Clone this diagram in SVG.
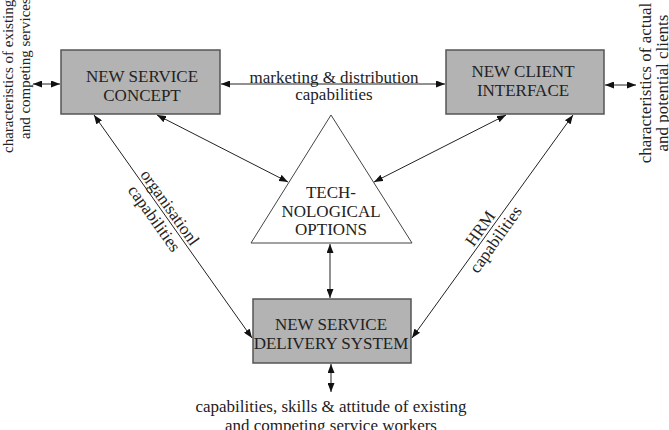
<svg xmlns="http://www.w3.org/2000/svg" width="669" height="430" viewBox="0 0 669 430">
<defs>
<marker id="ah" markerUnits="userSpaceOnUse" markerWidth="9" markerHeight="7" refX="9" refY="3.5" orient="auto-start-reverse">
<path d="M0,0 L9,3.5 L0,7 z" fill="#111"/>
</marker>
<style>
text{font-family:"Liberation Serif","Times New Roman",serif;font-size:17px;fill:#222}
.box{fill:#b3b3b3;stroke:#555;stroke-width:1.5}
.tri{fill:#fff;stroke:#444;stroke-width:1}
.c{stroke:#222;stroke-width:1;fill:none;marker-start:url(#ah);marker-end:url(#ah)}
.m{text-anchor:middle}
.s{font-size:15px}
</style>
</defs>
<rect width="669" height="430" fill="#fff"/>
<g id="concept">
<rect class="box" x="61" y="50" width="159" height="64"/>
<text class="m" x="142" y="82">NEW SERVICE</text>
<text class="m" x="142" y="101">CONCEPT</text>
</g>
<g id="client">
<rect class="box" x="446" y="50" width="158" height="64"/>
<text class="m" x="523" y="77">NEW CLIENT</text>
<text class="m" x="523" y="96">INTERFACE</text>
</g>
<g id="delivery">
<rect class="box" x="253" y="299" width="158" height="64"/>
<text class="m" x="331" y="330">NEW SERVICE</text>
<text class="m" x="331" y="349">DELIVERY SYSTEM</text>
</g>
<g id="tech">
<polygon class="tri" points="331,115 251,243 412,243"/>
<text class="m" x="331" y="198">TECH-</text>
<text class="m" x="331" y="217">NOLOGICAL</text>
<text class="m" x="331" y="235">OPTIONS</text>
</g>
<g id="connectors">
<line class="c" x1="221" y1="84" x2="445" y2="84"/>
<line class="c" x1="33" y1="84" x2="60" y2="84"/>
<line class="c" x1="605" y1="85" x2="636" y2="85"/>
<line class="c" x1="157" y1="115" x2="288" y2="182"/>
<line class="c" x1="506" y1="115" x2="374" y2="182"/>
<line class="c" x1="94" y1="115" x2="252" y2="338"/>
<line class="c" x1="573" y1="115" x2="412" y2="338"/>
<line class="c" x1="330" y1="244" x2="330" y2="298"/>
<line class="c" x1="331" y1="364" x2="331" y2="392"/>
</g>
<g id="labels">
<text class="m" x="334" y="83">marketing &amp; distribution</text>
<text class="m" x="334" y="100">capabilities</text>
<g transform="translate(162,213) rotate(54.6)">
<text class="m" x="0" y="-4">organisationl</text>
<text class="m" x="0" y="15">capabilities</text>
</g>
<g transform="translate(488,234) rotate(-54.6)">
<text class="m" x="0" y="-4">HRM</text>
<text class="m" x="0" y="15">capabilities</text>
</g>
<text class="s" transform="translate(13,153) rotate(-90)">characteristics of existing</text>
<text class="s" transform="translate(30,139) rotate(-90)">and competing services</text>
<text class="m" transform="translate(651,83) rotate(-90)">characteristics of actual</text>
<text class="m" transform="translate(668,83) rotate(-90)">and potential clients</text>
<text class="m" x="331" y="412">capabilities, skills &amp; attitude of existing</text>
<text class="m" x="331" y="431">and competing service workers</text>
</g>
</svg>
